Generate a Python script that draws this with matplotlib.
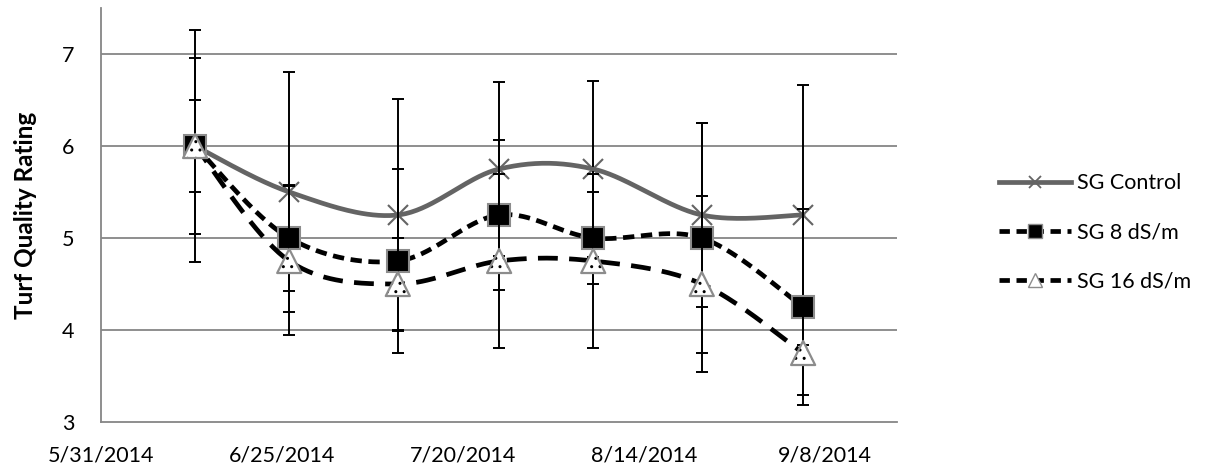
import datetime as dt
import numpy as np
import matplotlib
matplotlib.use("Agg")
import matplotlib.pyplot as plt
import matplotlib.dates as mdates
from matplotlib.lines import Line2D

# sampling dates
dates = ["2014-06-13", "2014-06-26", "2014-07-11", "2014-07-25",
         "2014-08-07", "2014-08-22", "2014-09-05"]

control = [6.0, 5.5, 5.25, 5.75, 5.75, 5.25, 5.25]
control_err = [1.26, 1.3, 1.26, 0.95, 0.96, 1.0, 1.41]

sg8 = [6.0, 5.0, 4.75, 5.25, 5.0, 5.0, 4.25]
sg8_err = [0.96, 0.58, 1.0, 0.82, 0.5, 1.25, 1.07]

sg16 = [6.0, 4.75, 4.5, 4.75, 4.75, 4.5, 3.75]
sg16_err = [0.5, 0.81, 0.5, 0.95, 0.95, 0.96, 0.46]

labels = ["SG Control", "SG 8 dS/m", "SG 16 dS/m"]
tick_dates = ["2014-05-31", "2014-06-25", "2014-07-20", "2014-08-14", "2014-09-08"]

plt.rcParams['font.family'] = ['Lato', 'DejaVu Sans']


def smooth(x, y, n=40):
    # excel-style smoothed line (catmull-rom bezier)
    x = np.asarray(x, float)
    y = np.asarray(y, float)
    p = np.column_stack([x, y])
    pts = [p[0]]
    for i in range(len(p) - 1):
        p0 = p[i - 1] if i > 0 else p[i]
        p3 = p[i + 2] if i + 2 < len(p) else p[i + 1]
        c1 = p[i] + (p[i + 1] - p0) / 6
        c2 = p[i + 1] - (p3 - p[i]) / 6
        t = np.linspace(0, 1, n)[1:, None]
        seg = ((1 - t) ** 3 * p[i] + 3 * (1 - t) ** 2 * t * c1
               + 3 * (1 - t) * t ** 2 * c2 + t ** 3 * p[i + 1])
        pts.extend(seg)
    pts = np.array(pts)
    return pts[:, 0], pts[:, 1]


x = mdates.date2num([dt.date.fromisoformat(d) for d in dates])
ticks = mdates.date2num([dt.date.fromisoformat(d) for d in tick_dates])

fig = plt.figure(figsize=(12.1, 4.72), dpi=100)
ax = fig.add_axes([0.0835, 0.106, 0.658, 0.877])

grid_col = "#868686"
for v in [4, 5, 6, 7]:
    ax.axhline(v, color=grid_col, lw=1.3, zorder=0)

# control
sx, sy = smooth(x, control)
ax.plot(sx, sy, color="#646464", lw=3.4, zorder=2, solid_capstyle="round")
ax.errorbar(x, control, yerr=control_err, fmt="none", ecolor="black",
            elinewidth=1.4, capsize=4, capthick=1.4, zorder=3)
ax.plot(x, control, ls="none", marker="x", ms=15, mew=1.5,
        color="#646464", zorder=4)

# 8 dS/m
sx, sy = smooth(x, sg8)
ax.plot(sx, sy, color="black", lw=3.4, dashes=(2.4, 1.4), zorder=5)
ax.errorbar(x, sg8, yerr=sg8_err, fmt="none", ecolor="black",
            elinewidth=1.4, capsize=4, capthick=1.4, zorder=6)
ax.plot(x, sg8, ls="none", marker="s", ms=16, mew=1.5, mfc="black",
        mec="#8c8c8c", zorder=7)

# 16 dS/m
sx, sy = smooth(x, sg16)
ax.plot(sx, sy, color="black", lw=3.4, dashes=(4.2, 2.4), zorder=8)
ax.errorbar(x, sg16, yerr=sg16_err, fmt="none", ecolor="black",
            elinewidth=1.4, capsize=4, capthick=1.4, zorder=9)
ax.scatter(x, sg16, marker="^", s=300, facecolor="white", edgecolor="black",
           linewidths=0, hatch="..", zorder=10)
ax.scatter(x, sg16, marker="^", s=300, facecolor="none", edgecolor="#8c8c8c",
           linewidths=1.6, zorder=11)

ax.set_ylim(3, 7.5)
ax.set_yticks([3, 4, 5, 6, 7])
ax.set_xlim(ticks[0], ticks[0] + 110)
ax.set_xticks(ticks)
ax.set_xticklabels([f"{d.month}/{d.day}/{d.year}" for d in
                    (dt.date.fromisoformat(t) for t in tick_dates)])
ax.tick_params(length=0, labelsize=15.5, pad=17)
ax.tick_params(axis="y", pad=19)
for s in ["top", "right"]:
    ax.spines[s].set_visible(False)
ax.spines["left"].set_color(grid_col)
ax.spines["bottom"].set_color(grid_col)
ax.spines["left"].set_linewidth(1.3)
ax.spines["bottom"].set_linewidth(1.3)
ax.set_ylabel("Turf Quality Rating", fontsize=17.5, fontweight="bold", labelpad=18)

handles = [
    Line2D([], [], color="#646464", lw=3.4, marker="x", ms=9, mew=1.3),
    Line2D([], [], color="black", lw=3.4, dashes=(2.2, 1.4), marker="s", ms=10,
           mfc="black", mec="#8c8c8c"),
    Line2D([], [], color="black", lw=3.4, dashes=(2.2, 1.4), marker="^", ms=10,
           mfc="white", mec="#8c8c8c"),
]
fig.legend(handles, labels, loc="center left", bbox_to_anchor=(0.81, 0.508),
           frameon=False, fontsize=15.5, handlelength=3.3, handletextpad=0.3,
           labelspacing=1.35)

fig.savefig("out.png", dpi=100)
